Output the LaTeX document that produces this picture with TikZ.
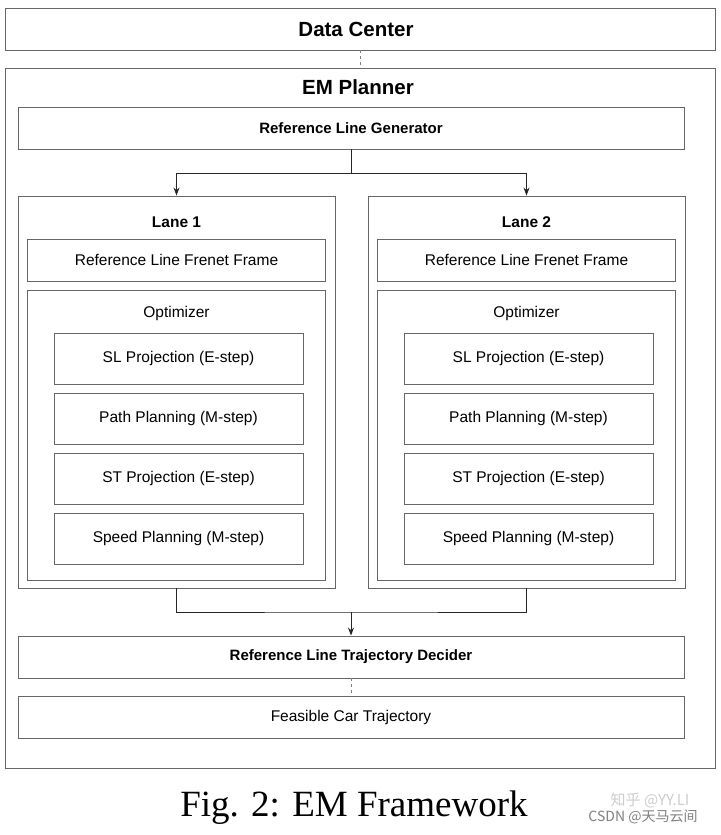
\documentclass[tikz,border=0pt]{standalone}
\usepackage{fontspec}
\setmainfont{Liberation Sans}
\newfontfamily\capfont{Liberation Serif}
\newfontfamily\cjkfont{Noto Sans CJK SC}
\usetikzlibrary{positioning,arrows.meta}

\begin{document}
\begin{tikzpicture}[x=1pt,y=-1pt,
	box/.style={draw=black!60,line width=0.9pt,inner sep=0pt,minimum height=42pt,font=\fontsize{15.5}{18}\selectfont},
	wide/.style={box,minimum width=666pt},
	lanebox/.style={box,minimum width=317pt,minimum height=392pt},
	stepbox/.style={box,minimum width=249pt,minimum height=51pt},
	title/.style={font=\fontsize{15.5}{18}\selectfont\bfseries},
	bigtitle/.style={font=\fontsize{20.5}{24}\selectfont\bfseries},
	link/.style={draw=black!85,line width=0.9pt},
	arr/.style={link,-{Stealth[length=8pt,width=6pt]}}]
	\useasboundingbox (0,0) rectangle (720,835);
	% top level
	\node[box,minimum width=710pt] (dc) at (360,29) {};
	\node[bigtitle] (dctitle) at (356,29) {Data Center};
	\node[box,minimum width=710pt,minimum height=700pt] (em) at (360,418) {};
	\node[bigtitle] (emtitle) at (358,87) {EM Planner};
	\node[wide,font=\fontsize{15}{18}\selectfont\bfseries] (rlg) at (351,128) {Reference Line Generator};
	% the two lanes
	\foreach \i/\x in {1/176.5,2/526.5}{
		\node[lanebox] (lane\i) at (\x,392) {};
		\node[title] (lanetitle\i) at (\x,222) {Lane \i};
		\node[box,minimum width=298pt] (frenet\i) at (\x,260) {Reference Line Frenet Frame};
		\node[box,minimum width=298pt,minimum height=290pt] (opt\i) at (\x,435) {};
		\node[font=\fontsize{15.5}{18}\selectfont] (opttitle\i) at (\x,313) {Optimizer};
		\node[stepbox] (sl\i) at (\x+2,358.5) {SL Projection (E-step)};
		\node[stepbox] (path\i) at (\x+2,418.5) {Path Planning (M-step)};
		\node[stepbox] (st\i) at (\x+2,478.5) {ST Projection (E-step)};
		\node[stepbox] (speed\i) at (\x+2,538.5) {Speed Planning (M-step)};
	}
	\node[wide,font=\fontsize{15}{18}\selectfont\bfseries] (dec) at (351,657) {Reference Line Trajectory Decider};
	\node[wide] (feas) at (351,717) {Feasible Car Trajectory};
	% connectors
	\draw[dashed,draw=black!50,line width=0.7pt] (dc.south) -- (em.north);
	\draw[link] (rlg.south) -- ++(0,24) coordinate (split);
	\draw[arr] (split) -| (lane1.north);
	\draw[arr] (split) -| (lane2.north);
	\coordinate (merge) at (351,612);
	\draw[link] (lane1.south) |- (merge) -| (lane2.south);
	\draw[arr] (merge) -- (dec.north);
	\draw[dashed,draw=black!50,line width=0.7pt] (dec.south) -- (feas.north);
	% caption
	\node[font=\capfont\fontsize{37}{40}\selectfont] (caption) at (354,808) {Fig. 2: EM Framework};
	\node[font=\cjkfont\fontsize{15}{18}\selectfont,text=black!20] (mark1) at (650,800) {知乎 @YY.LI};
	\node[font=\cjkfont\fontsize{14}{16}\selectfont,text=black!50] (mark2) at (643,817) {CSDN @天马云间};
\end{tikzpicture}
\end{document}
